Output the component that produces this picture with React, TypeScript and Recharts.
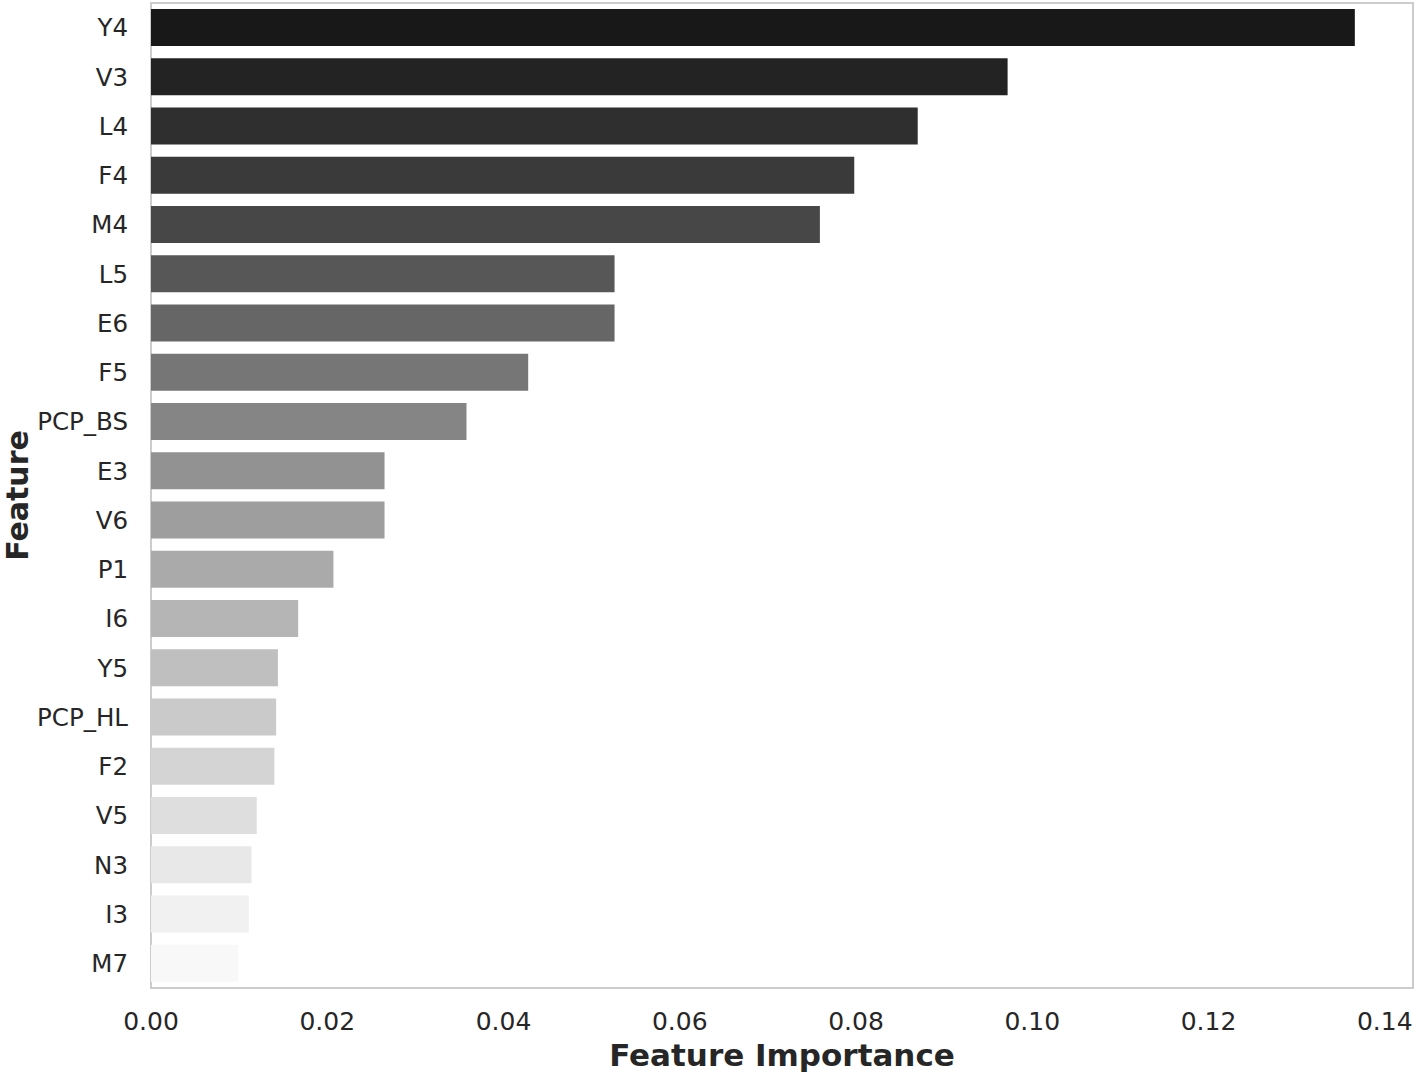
import { BarChart, Bar, XAxis, YAxis, Cell, ReferenceArea } from "recharts";

const features = ["Y4", "V3", "L4", "F4", "M4", "L5", "E6", "F5", "PCP_BS", "E3", "V6", "P1", "I6", "Y5", "PCP_HL", "F2", "V5", "N3", "I3", "M7"];
const importance = [0.1366, 0.0972, 0.087, 0.0798, 0.0759, 0.0526, 0.0526, 0.0428, 0.0358, 0.0265, 0.0265, 0.0207, 0.0167, 0.0144, 0.0142, 0.014, 0.012, 0.0114, 0.0111, 0.0099];
const greys = ["#181818", "#232323", "#2f2f2f", "#3a3a3a", "#474747", "#575757", "#666666", "#767676", "#858585", "#929292", "#9e9e9e", "#aaaaaa", "#b5b5b5", "#bfbfbf", "#cacaca", "#d4d4d4", "#dedede", "#e8e8e8", "#f1f1f1", "#f8f8f8"];
const xTicks = [0, 0.02, 0.04, 0.06, 0.08, 0.1, 0.12, 0.14];
const xMax = 0.1432;

const data = features.map((feature, i) => ({ feature, value: importance[i] }));

const font = "'DejaVu Sans', sans-serif";
const textColor = "#262626";
const frame = "#cccccc";

const YLabel = (props: any) => {
  const { viewBox } = props;
  const cx = viewBox.x + 17;
  const cy = viewBox.y + viewBox.height / 2;
  return (
    <text x={cx} y={cy} transform={`rotate(-90 ${cx} ${cy})`} textAnchor="middle" dominantBaseline="central"
      fill={textColor} fontFamily={font} fontSize={30} fontWeight="bold">
      Feature
    </text>
  );
};

const XLabel = (props: any) => {
  const { viewBox } = props;
  const cx = viewBox.x + viewBox.width / 2;
  const y = viewBox.y + viewBox.height - 8;
  return (
    <text x={cx} y={y} textAnchor="middle" fill={textColor} fontFamily={font} fontSize={31} fontWeight="bold">
      Feature Importance
    </text>
  );
};

export default function App() {
  return (
    <div style={{ position: "absolute", left: 0, top: 0, width: 1416, height: 1074, background: "#fff" }}>
      <BarChart width={1416} height={1074} data={data} layout="vertical" barCategoryGap="12%"
        margin={{ top: 3, right: 3, bottom: 0, left: 0 }}>
        <XAxis type="number" domain={[0, xMax]} ticks={xTicks} allowDataOverflow
          tickFormatter={(v: number) => v.toFixed(2)} height={86} tickSize={0} tickMargin={24}
          tickLine={false} axisLine={false}
          tick={{ fill: textColor, fontSize: 25, fontFamily: font }} label={<XLabel />} />
        <YAxis type="category" dataKey="feature" width={151} tickSize={0} tickMargin={23}
          tickLine={false} axisLine={false} interval={0}
          tick={{ fill: textColor, fontSize: 24.5, fontFamily: font }} label={<YLabel />} />
        <Bar dataKey="value" isAnimationActive={false}>
          {data.map((d, i) => (
            <Cell key={d.feature} fill={greys[i]} />
          ))}
        </Bar>
        <ReferenceArea x1={0} x2={xMax} fill="none" fillOpacity={0} stroke={frame} strokeWidth={2} ifOverflow="visible" />
      </BarChart>
    </div>
  );
}
